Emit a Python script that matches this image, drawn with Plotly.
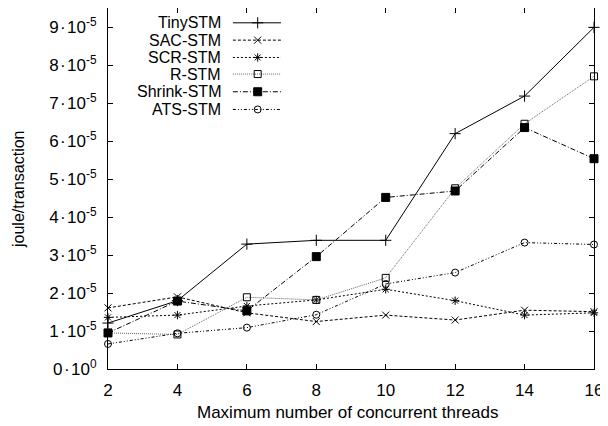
import plotly.graph_objects as go

threads = [2, 4, 6, 8, 10, 12, 14, 16]
tiny_stm = [1.21e-5, 1.80e-5, 3.29e-5, 3.39e-5, 3.39e-5, 6.20e-5, 7.19e-5, 9.00e-5]
sac_stm = [1.61e-5, 1.90e-5, 1.48e-5, 1.25e-5, 1.42e-5, 1.29e-5, 1.55e-5, 1.51e-5]
scr_stm = [1.36e-5, 1.42e-5, 1.66e-5, 1.82e-5, 2.10e-5, 1.80e-5, 1.42e-5, 1.48e-5]
r_stm = [0.95e-5, 0.91e-5, 1.89e-5, 1.82e-5, 2.40e-5, 4.76e-5, 6.46e-5, 7.71e-5]
shrink_stm = [0.95e-5, 1.79e-5, 1.53e-5, 2.96e-5, 4.52e-5, 4.69e-5, 6.36e-5, 5.54e-5]
ats_stm = [0.66e-5, 0.94e-5, 1.09e-5, 1.43e-5, 2.24e-5, 2.54e-5, 3.33e-5, 3.28e-5]

series_names = ["TinySTM", "SAC-STM", "SCR-STM", "R-STM", "Shrink-STM", "ATS-STM"]
series_values = [tiny_stm, sac_stm, scr_stm, r_stm, shrink_stm, ats_stm]

y_tick_vals = [0, 1e-5, 2e-5, 3e-5, 4e-5, 5e-5, 6e-5, 7e-5, 8e-5, 9e-5]
y_tick_text = ["0\u200a·\u200a10<sup>0</sup>"] + [f"{i}\u200a·\u200a10<sup>-5</sup>" for i in range(1, 10)]
x_tick_vals = [2, 4, 6, 8, 10, 12, 14, 16]

styles = [
    dict(dash="solid", color="black", symbol="cross-thin-open", size=8),
    dict(dash="3px,2px", color="black", symbol="x-thin-open", size=7),
    dict(dash="2px,2px", color="black", symbol="asterisk-open", size=7),
    dict(dash="1px,1px", color="#666666", symbol="square-open", size=7),
    dict(dash="5px,2px,1px,2px", color="black", symbol="square", size=8),
    dict(dash="3px,2px,1px,2px,1px,2px", color="black", symbol="circle-open", size=7),
]

FONT = "Liberation Sans, Arial, sans-serif"
fig = go.Figure()

for name, vals, st in zip(series_names, series_values, styles):
    fig.add_trace(go.Scatter(
        x=threads, y=vals, mode="lines+markers", name=name,
        line=dict(color=st["color"], width=1, dash=st["dash"]),
        marker=dict(symbol=st["symbol"], size=st["size"], color="black",
                    line=dict(color="black", width=1)),
        cliponaxis=False, showlegend=False,
    ))

# gnuplot-style key: text right-aligned, line sample to the right
leg_y = [0.959, 0.911, 0.863, 0.817, 0.768, 0.719]
for name, st, yy in zip(series_names, styles, leg_y):
    fig.add_trace(go.Scatter(
        x=[0.257, 0.308, 0.356], y=[yy] * 3,
        xaxis="x2", yaxis="y2", mode="lines",
        line=dict(color=st["color"], width=1, dash=st["dash"]),
        showlegend=False, hoverinfo="skip", cliponaxis=False,
    ))
    fig.add_trace(go.Scatter(
        x=[0.308], y=[yy], xaxis="x2", yaxis="y2", mode="markers",
        marker=dict(symbol=st["symbol"], size=st["size"], color="black",
                    line=dict(color="black", width=1)),
        showlegend=False, hoverinfo="skip", cliponaxis=False,
    ))
    fig.add_annotation(
        x=0.2366, y=yy, xref="x2", yref="y2", text=name, showarrow=False,
        xanchor="right", yanchor="middle",
        font=dict(family=FONT, size=16, color="black"),
    )

# axis titles
fig.add_annotation(
    x=0.493, y=-43 / 361, xref="paper", yref="paper",
    text="Maximum number of concurrent threads", showarrow=False,
    xanchor="center", yanchor="middle", font=dict(family=FONT, size=17, color="black"),
)
fig.add_annotation(
    x=-90 / 486, y=0.4986, xref="paper", yref="paper",
    text="joule/transaction", showarrow=False, textangle=-90,
    xanchor="center", yanchor="middle", font=dict(family=FONT, size=16, color="black"),
)

fig.update_layout(
    width=600, height=418,
    margin=dict(l=100, r=14, t=0, b=57),
    paper_bgcolor="white", plot_bgcolor="white",
    font=dict(family=FONT, size=17, color="black"),
    xaxis=dict(
        range=[2, 16], tickvals=x_tick_vals, ticks="inside", ticklen=5,
        tickcolor="black", mirror="ticks", showline=True, linecolor="black",
        linewidth=1, showgrid=False, zeroline=False,
        tickfont=dict(size=17), ticklabelstandoff=6,
    ),
    yaxis=dict(
        range=[0, 9.51e-5], tickvals=y_tick_vals, ticktext=y_tick_text,
        ticks="inside", ticklen=5, tickcolor="black", mirror="ticks",
        showline=True, linecolor="black", linewidth=1, showgrid=False,
        zeroline=False, tickfont=dict(size=17), ticklabelstandoff=7,
    ),
    xaxis2=dict(range=[0, 1], overlaying="x", visible=False, fixedrange=True),
    yaxis2=dict(range=[0, 1], overlaying="y", visible=False, fixedrange=True),
)

fig.write_html("out.html")
